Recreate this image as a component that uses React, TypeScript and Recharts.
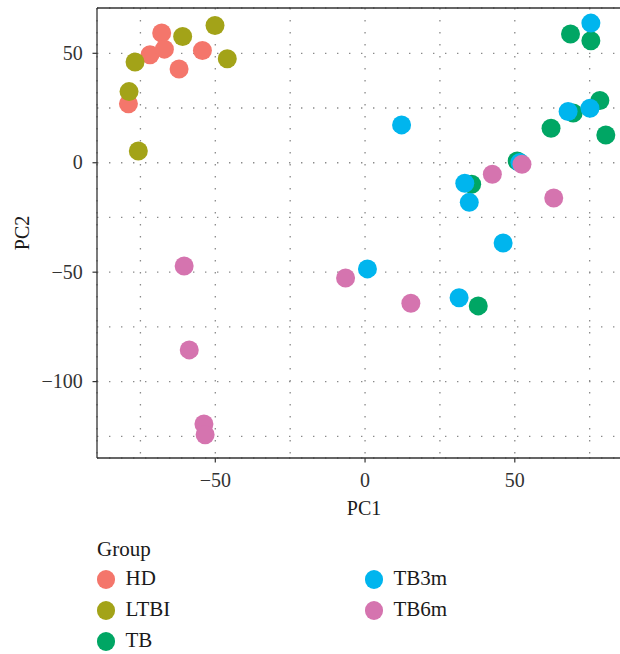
import { ScatterChart, Scatter, XAxis, YAxis, CartesianGrid, Legend, ReferenceLine } from 'recharts';

// groups and their colours
const groups = ['HD', 'LTBI', 'TB', 'TB3m', 'TB6m'];
const colors = ['#F4766B', '#A3A318', '#00A664', '#00B5EE', '#D574AF'];

// PCA scores
const hdPoints = [
  { x: -67.9, y: 59.3 },
  { x: -71.8, y: 49.3 },
  { x: -67.0, y: 51.9 },
  { x: -62.1, y: 42.8 },
  { x: -54.3, y: 51.3 },
  { x: -79.0, y: 26.9 },
];
const ltbiPoints = [
  { x: -50.1, y: 62.7 },
  { x: -60.9, y: 57.7 },
  { x: -76.8, y: 46.0 },
  { x: -46.0, y: 47.5 },
  { x: -78.8, y: 32.5 },
  { x: -75.7, y: 5.4 },
];
const tbPoints = [
  { x: 68.6, y: 58.8 },
  { x: 75.4, y: 55.7 },
  { x: 78.4, y: 28.4 },
  { x: 69.5, y: 22.7 },
  { x: 62.1, y: 15.8 },
  { x: 80.4, y: 12.7 },
  { x: 50.8, y: 0.8 },
  { x: 35.6, y: -9.8 },
  { x: 37.8, y: -65.4 },
];
const tb3mPoints = [
  { x: 75.4, y: 63.8 },
  { x: 67.8, y: 23.4 },
  { x: 75.1, y: 24.9 },
  { x: 51.7, y: 0.1 },
  { x: 33.3, y: -9.4 },
  { x: 34.8, y: -18.1 },
  { x: 46.1, y: -36.7 },
  { x: 31.4, y: -61.7 },
  { x: 12.2, y: 17.3 },
  { x: 0.8, y: -48.5 },
];
const tb6mPoints = [
  { x: 52.4, y: -0.7 },
  { x: 42.5, y: -5.3 },
  { x: 63.0, y: -16.1 },
  { x: 15.3, y: -64.2 },
  { x: -6.5, y: -52.7 },
  { x: -60.4, y: -47.2 },
  { x: -58.7, y: -85.5 },
  { x: -53.8, y: -119.4 },
  { x: -53.4, y: -124.3 },
];
const groupPoints = [hdPoints, ltbiPoints, tbPoints, tb3mPoints, tb6mPoints];

const xTicks = [-75, -50, -25, 0, 25, 50, 75];
const yTicks = [-125, -100, -75, -50, -25, 0, 25, 50];
const xLabeled = [-50, 0, 50];
const yLabeled = [-100, -50, 0, 50];
const xDomain = [-89.5, 88.8];
const yDomain = [-134.9, 70.7];

const FONT = '"Liberation Serif", "Times New Roman", "DejaVu Serif", serif';
const fmt = (v: number) => (v < 0 ? '\u2212' + Math.abs(v) : String(v));

const XTick = ({ x, y, payload }: any) => {
  if (!xLabeled.includes(payload.value)) return <g />;
  return (
    <g>
      <line x1={x} x2={x} y1={y} y2={y + 4.5} stroke="#333" strokeWidth={1.2} />
      <text x={x} y={y + 28.6} textAnchor="middle" fill="#333" fontSize={20} fontFamily={FONT}>
        {fmt(payload.value)}
      </text>
    </g>
  );
};

const YTick = ({ x, y, payload }: any) => {
  if (!yLabeled.includes(payload.value)) return <g />;
  return (
    <g>
      <line x1={x - 4.5} x2={x} y1={y} y2={y} stroke="#333" strokeWidth={1.2} />
      <text x={x - 14.3} y={y + 6.6} textAnchor="end" fill="#333" fontSize={20} fontFamily={FONT}>
        {fmt(payload.value)}
      </text>
    </g>
  );
};

const LegendBox = () => (
  <div style={{ position: 'relative', width: 620, height: 654, fontFamily: FONT, color: '#1a1a1a', fontSize: 21 }}>
    <div style={{ position: 'absolute', left: 97, top: 539.4, lineHeight: '21px' }}>Group</div>
    {groups.map((g, i) => {
      const col = i < 3 ? 0 : 1;
      const row = i < 3 ? i : i - 3;
      const cx = col === 0 ? 106 : 374;
      const cy = 579.3 + row * 31.2;
      return (
        <div key={g}>
          <div
            style={{
              position: 'absolute',
              left: cx - 9.3,
              top: cy - 9.3,
              width: 18.6,
              height: 18.6,
              borderRadius: '50%',
              background: colors[i],
            }}
          />
          <div style={{ position: 'absolute', left: cx + 19.5, top: cy - 11.6, lineHeight: '21px' }}>{g}</div>
        </div>
      );
    })}
  </div>
);

export default function App() {
  return (
    <div style={{ position: 'absolute', left: 0, top: 0, width: 620, height: 654, overflow: 'hidden', background: '#fff', fontFamily: FONT }}>
      <ScatterChart width={650} height={654} margin={{ top: 8, right: 19, bottom: 146, left: 0 }}>
        <CartesianGrid stroke="#8a8a8a" strokeWidth={1.3} strokeDasharray="1.4 10.6" />
        <XAxis
          type="number"
          dataKey="x"
          domain={xDomain}
          ticks={xTicks}
          allowDataOverflow
          height={50}
          tickSize={0}
          tickMargin={0}
          tickLine={false}
          tick={<XTick />}
          axisLine={{ stroke: '#333', strokeWidth: 1.3 }}
          label={{ value: 'PC1', position: 'insideBottom', offset: -6.5, fill: '#1a1a1a', fontSize: 20 }}
        />
        <YAxis
          type="number"
          dataKey="y"
          domain={yDomain}
          ticks={yTicks}
          allowDataOverflow
          width={97}
          tickSize={0}
          tickMargin={0}
          tickLine={false}
          tick={<YTick />}
          axisLine={{ stroke: '#333', strokeWidth: 1.3 }}
          label={{ value: 'PC2', angle: -90, position: 'insideLeft', offset: 22, fill: '#1a1a1a', fontSize: 20, style: { textAnchor: 'middle' } }}
        />
        <ReferenceLine y={yDomain[1]} stroke="#333" strokeWidth={1.3} />
        {groups.map((g, i) => (
          <Scatter
            key={g}
            name={g}
            data={groupPoints[i]}
            fill={colors[i]}
            isAnimationActive={false}
            shape={(p: any) => <circle cx={p.cx} cy={p.cy} r={9.5} fill={colors[i]} />}
          />
        ))}
        <Legend
          layout="horizontal"
          verticalAlign="middle"
          align="center"
          wrapperStyle={{ left: 0, top: 0, width: 620, height: 654 }}
          content={() => <LegendBox />}
        />
      </ScatterChart>
    </div>
  );
}
